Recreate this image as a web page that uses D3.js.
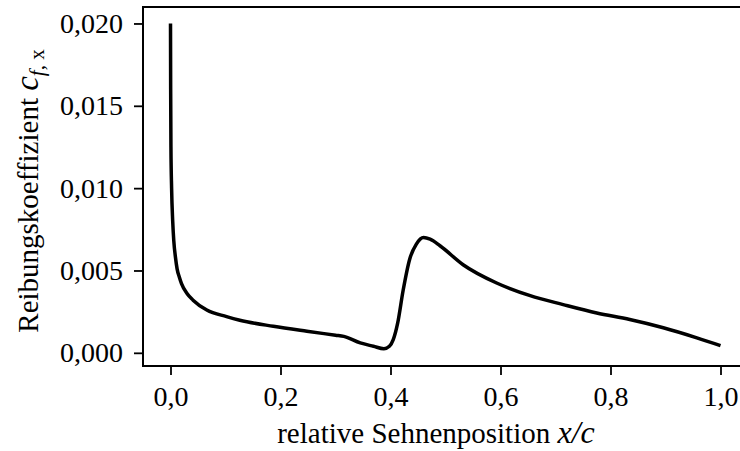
<!DOCTYPE html>
<html>
<head>
<meta charset="utf-8">
<script src="https://cdn.jsdelivr.net/npm/d3@7"></script>
<style>
  body { margin: 0; background: #fff; }
  svg { display: block; font-family: "Liberation Serif", "Times New Roman", serif; }
  .tick text { font-family: "Liberation Serif", "Times New Roman", serif; font-size: 28px; fill: #000; }
</style>
</head>
<body>
<svg id="chart" width="740" height="451"></svg>
<script>
// chordwise position x/c
const xPos = [0, 0.0003, 0.0008, 0.002, 0.004, 0.006, 0.009, 0.012, 0.016, 0.020, 0.030, 0.041,
  0.066, 0.102, 0.126, 0.187, 0.248, 0.300, 0.315, 0.345, 0.369, 0.388, 0.398, 0.405,
  0.413, 0.423, 0.435, 0.447, 0.460, 0.472, 0.490, 0.532, 0.593, 0.654, 0.714, 0.775,
  0.835, 0.896, 0.957, 1.0];
// skin friction coefficient c_f,x
const cf = [0.0200, 0.0160, 0.0125, 0.0100, 0.0080, 0.0068, 0.0058, 0.0051, 0.0046, 0.0042, 0.0036, 0.0032,
  0.0026, 0.0022, 0.00198, 0.00161, 0.00131, 0.00107, 0.00100, 0.00060, 0.00040, 0.00025, 0.00040, 0.00080,
  0.0018, 0.0038, 0.0057, 0.0066, 0.0070, 0.0069, 0.0065, 0.00535, 0.00424, 0.00347, 0.00293, 0.00242,
  0.00202, 0.00152, 0.00091, 0.00044];
const xTicks = [0, 0.2, 0.4, 0.6, 0.8, 1.0];
const yTicks = [0, 0.005, 0.010, 0.015, 0.020];

const svg = d3.select('#chart');
const margin = { left: 143, top: 7 };
const w = 605, h = 359;

const x = d3.scaleLinear().domain([-0.05, 1.05]).range([0, w]);
const y = d3.scaleLinear().domain([-0.0008, 0.021]).range([h, 0]);

const g = svg.append('g').attr('transform', `translate(${margin.left},${margin.top})`);
const fmt = (d, n) => d.toFixed(n).replace('.', ',');

const xAxis = g.append('g')
  .attr('transform', `translate(0,${h})`)
  .call(d3.axisBottom(x).tickValues(xTicks).tickFormat((d) => fmt(d, 1)).tickSize(9).tickPadding(11));
const yAxis = g.append('g')
  .call(d3.axisLeft(y).tickValues(yTicks).tickFormat((d) => fmt(d, 3)).tickSize(9).tickPadding(11));

[xAxis, yAxis].forEach((a) => {
  a.attr('font-family', null).attr('font-size', null);
  a.select('.domain').remove();
  a.selectAll('.tick line').attr('stroke', '#000').attr('stroke-width', 1.8);
});

g.append('rect')
  .attr('width', w).attr('height', h)
  .attr('fill', 'none').attr('stroke', '#000').attr('stroke-width', 2);

const pts = xPos.map((d, i) => [d, cf[i]]);
g.append('path')
  .datum(pts)
  .attr('fill', 'none')
  .attr('stroke', '#000')
  .attr('stroke-width', 3.5)
  .attr('stroke-linejoin', 'round')
  .attr('d', d3.line().x((d) => x(d[0])).y((d) => y(d[1])).curve(d3.curveMonotoneX));

// axis labels
const xl = svg.append('text')
  .attr('x', 436).attr('y', 443)
  .attr('text-anchor', 'middle').attr('font-size', 29);
xl.append('tspan').text('relative Sehnenposition ');
xl.append('tspan').attr('font-style', 'italic').attr('font-size', 32).text('x/c');

const yl = svg.append('text')
  .attr('transform', 'translate(38,191) rotate(-90)')
  .attr('text-anchor', 'middle').attr('font-size', 29);
yl.append('tspan').text('Reibungskoeffizient ');
yl.append('tspan').attr('font-style', 'italic').attr('font-size', 33).text('c');
yl.append('tspan').attr('font-size', 21).attr('dy', 6).attr('font-style', 'italic').text('f');
yl.append('tspan').attr('font-size', 21).text(', x');
</script>
</body>
</html>
